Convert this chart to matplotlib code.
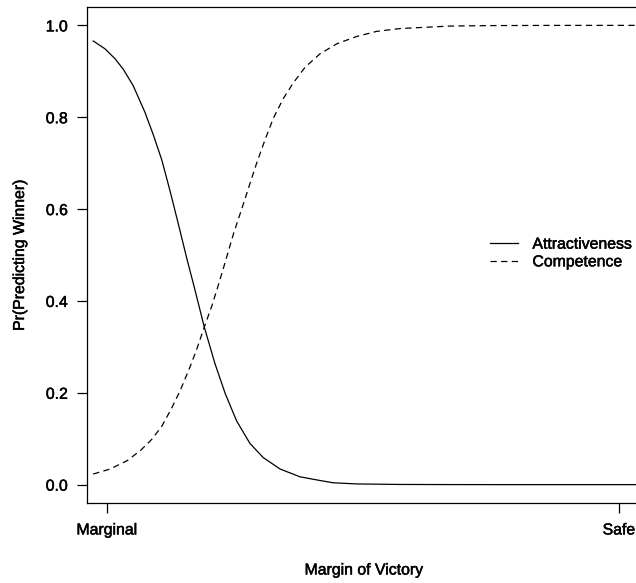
import matplotlib
matplotlib.use("Agg")
import matplotlib.pyplot as plt
import matplotlib.patheffects as pe

plt.rcParams['font.family'] = ['Liberation Sans', 'DejaVu Sans']

# Values (x: 0 = Marginal, 1 = Safe)
attr_x = [-0.027, -0.004, 0.016, 0.032, 0.051, 0.074, 0.090, 0.107, 0.123,
          0.139, 0.156, 0.172, 0.190, 0.211, 0.231, 0.253, 0.279, 0.305,
          0.338, 0.377, 0.416, 0.442, 0.488, 0.570, 0.670, 0.800, 1.000, 1.040]
attr_y = [0.966, 0.949, 0.927, 0.904, 0.869, 0.811, 0.763, 0.707, 0.640,
          0.569, 0.492, 0.423, 0.343, 0.263, 0.198, 0.139, 0.090, 0.059,
          0.034, 0.017, 0.009, 0.004, 0.0015, 0.0004, 0.0001, 0.0, 0.0, 0.0]

comp_x = [-0.027, 0.006, 0.039, 0.065, 0.087, 0.107, 0.126, 0.143, 0.162,
          0.175, 0.190, 0.205, 0.217, 0.227, 0.237, 0.247, 0.266, 0.279,
          0.292, 0.309, 0.325, 0.344, 0.364, 0.387, 0.416, 0.449, 0.488,
          0.527, 0.572, 0.624, 0.670, 0.750, 0.850, 1.000, 1.040]
comp_y = [0.023, 0.034, 0.052, 0.074, 0.098, 0.127, 0.166, 0.205, 0.256,
          0.294, 0.343, 0.390, 0.433, 0.470, 0.508, 0.546, 0.610, 0.655,
          0.699, 0.752, 0.798, 0.840, 0.875, 0.909, 0.938, 0.960, 0.976,
          0.987, 0.993, 0.996, 0.9985, 0.9995, 0.9999, 1.0, 1.0]

y_ticks = [0.0, 0.2, 0.4, 0.6, 0.8, 1.0]
x_ticks = [0.0, 1.0]
x_ticklabels = ["Marginal", "Safe"]
series_labels = ["Attractiveness", "Competence"]

W, H = 636, 583
fig = plt.figure(figsize=(W / 100, H / 100), dpi=100)
ax = fig.add_axes([87.3 / W, 1 - 503 / H, (638.7 - 87.3) / W, (503 - 7) / H])

fs = 11.4
heavy = [pe.withStroke(linewidth=0.35, foreground='black')]

ax.plot(attr_x, attr_y, color='black', lw=0.9, label=series_labels[0])
l2, = ax.plot(comp_x, comp_y, color='black', lw=0.9, label=series_labels[1])
l2.set_dashes([5, 3.5])

ax.set_xlim(-0.0385, 1.0385)
ax.set_ylim(-0.04, 1.04)
ax.set_yticks(y_ticks)
ax.set_yticklabels([f"{v:.1f}" for v in y_ticks])
ax.set_xticks(x_ticks)
ax.set_xticklabels(x_ticklabels)
ax.tick_params(axis='both', labelsize=fs, length=7, width=0.9, pad=7,
               color='black', labelcolor='black')
for lab in ax.get_xticklabels() + ax.get_yticklabels():
    lab.set_path_effects(heavy)
for s in ax.spines.values():
    s.set_linewidth(0.9)
    s.set_color('black')

fig.text(19.5 / W, 1 - 255 / H, "Pr(Predicting Winner)", rotation=90,
         ha='center', va='center', fontsize=fs, path_effects=heavy)
fig.text(364 / W, 1 - 570 / H, "Margin of Victory", ha='center', va='center',
         fontsize=fs, path_effects=heavy)

leg = ax.legend(loc='center left', bbox_to_anchor=(490 / W, 1 - 253 / H),
                bbox_transform=fig.transFigure, frameon=False, fontsize=fs,
                borderpad=0, borderaxespad=0, handlelength=1.75,
                handletextpad=0.93, labelspacing=0.17)
for t in leg.get_texts():
    t.set_path_effects(heavy)

fig.savefig("out.png", dpi=100)
